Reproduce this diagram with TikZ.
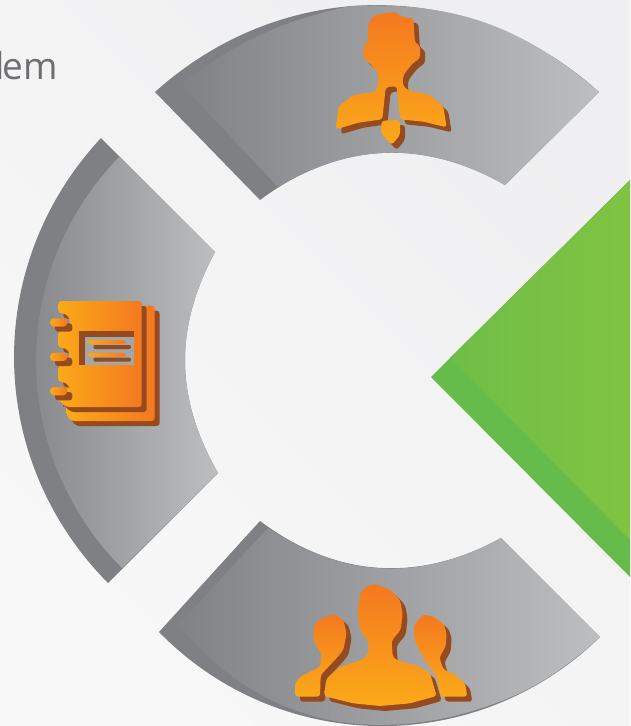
\documentclass[tikz,border=0pt]{standalone}
\usepackage{fontspec}
\setmainfont{Open Sans}
\definecolor{bgLight}{HTML}{F8F8F8}
\definecolor{bgDark}{HTML}{EFEFF1}
\definecolor{bandGray}{HTML}{7F8083}
\definecolor{sectorLeft}{HTML}{808285}
\definecolor{sectorRight}{HTML}{BCBEC0}
\definecolor{greenBand}{HTML}{65BC4A}
\definecolor{greenLeft}{HTML}{6FBE48}
\definecolor{greenRight}{HTML}{80C342}
\definecolor{iconDark}{HTML}{F47920}
\definecolor{iconLight}{HTML}{FBA919}
\definecolor{iconBrown}{HTML}{964A1F}
\definecolor{holeGray}{HTML}{A3A5A7}
\definecolor{wordGray}{HTML}{6D6E71}
\tikzset{
  sectorband/.style={fill=bandGray},
  sectorface/.style={left color=sectorLeft,right color=sectorRight},
  iconshadow/.style={fill=iconBrown,rounded corners=3pt,shift={(15,15)}},
  persongrad/.style={top color=iconDark,bottom color=iconLight,rounded corners=3pt},
  bookgrad/.style={left color=iconLight,right color=iconDark,rounded corners=3pt},
}
\newcommand{\manpath}{(145,70) -- (165,45) -- (225,35) -- (245,50) -- (280,55) -- (285,130) -- (300,135) -- (300,175) -- (278,190) -- (250,225) -- (248,255) -- (262,270) -- (330,285) -- (370,320) -- (380,382) -- (310,365) -- (240,358) -- (230,258) -- (197,262) -- (187,358) -- (115,368) -- (48,388) -- (55,320) -- (100,285) -- (165,275) -- (175,255) -- (175,220) -- (150,190) -- (130,175) -- (130,135) -- (143,130) -- cycle
  (185,362) -- (240,360) -- (240,405) -- (215,435) -- (183,400) -- cycle}
\newcommand{\groupleftpath}{(100,180) -- (105,160) -- (130,142) -- (165,132) -- (190,150) -- (200,190) -- (190,240) -- (172,262) -- (122,315) -- (120,380) -- (45,380) -- (45,340) -- (60,320) -- (95,303) -- (120,290) -- (125,255) -- (102,215) -- cycle}
\newcommand{\grouprightpath}{(403,180) -- (405,160) -- (430,133) -- (460,140) -- (490,160) -- (500,190) -- (497,230) -- (478,262) -- (490,298) -- (520,310) -- (555,340) -- (562,380) -- (482,380) -- (470,320) -- (445,285) -- (425,255) -- (405,215) -- cycle}
\newcommand{\groupmidpath}{(233,130) -- (240,70) -- (262,47) -- (285,42) -- (330,58) -- (360,90) -- (368,130) -- (362,180) -- (335,212) -- (338,260) -- (350,270) -- (420,290) -- (450,310) -- (470,378) -- (390,400) -- (300,408) -- (220,400) -- (132,378) -- (140,325) -- (180,290) -- (250,268) -- (265,250) -- (265,212) -- (240,180) -- cycle}
\newcommand{\bookbackpath}{(125,62) -- (374,62) -- (374,408) -- (125,408) -- (110,393) -- (110,355) -- cycle}
\newcommand{\bookfrontpath}{(85,48) -- (335,48) -- (335,366) -- (108,366) -- (85,343) -- (85,345)
  .. controls (128,345) and (128,291) .. (85,291) -- (85,242)
  .. controls (128,242) and (128,188) .. (85,188) -- (85,139)
  .. controls (128,139) and (128,85) .. (85,85) -- cycle}
\begin{document}
\begin{tikzpicture}[x=1pt,y=-1pt]
  \useasboundingbox (0,0) rectangle (630,726);
  \shade[bottom color=bgLight,middle color=bgDark,top color=bgDark,shading angle=-45] (0,0) rectangle (630,726);
  \node[anchor=base west,inner sep=0pt,font=\fontsize{37}{37}\selectfont,text=wordGray] (wordtail) at (-4.5,79) {l\kern-2.8pt em};

  \fill[sectorband] (155,92) to[bend left=42] (599,92) -- (505,185) to[bend right=33.3] (260,200) -- cycle;
  \shade[sectorface] (181,84) to[bend left=12] (350,6) to[bend left=21.5] (599,92) -- (505,185) to[bend right=30] (278,187) -- cycle;

  \fill[sectorband] (101,138) to[bend right=43.8] (108,583) -- (218,473) to[bend left=29] (215,252) -- cycle;
  \shade[sectorface] (119,157) to[bend right=44.4] (122,568) -- (218,473) to[bend left=29] (215,252) -- cycle;

  \fill[sectorband] (159,632) to[bend right=45] (600,637) -- (501,538) to[bend left=32.8] (260,521) -- cycle;
  \shade[sectorface] (178,625) to[bend right=31] (450,717) to[bend right=14] (600,637) -- (501,538) to[bend left=31.2] (268,528) -- cycle;

  \fill[greenBand] (630,180) -- (431,377) -- (630,577) -- cycle;
  \shade[left color=greenLeft,right color=greenRight] (630,180) -- (450,358) -- (630,540) -- cycle;

  \begin{scope}[shift={(320,0)},scale=1/3]
    \fill[iconshadow] \manpath;
    \shade[persongrad] \manpath;
  \end{scope}

  \begin{scope}[shift={(30,285)},scale=1/3]
    \fill[iconshadow] \bookbackpath;
    \shade[bookgrad] \bookbackpath;
    \fill[iconshadow] \bookfrontpath;
    \shade[bookgrad] \bookfrontpath;
    \foreach \ringy in {100,203,306} {
      \fill[iconshadow] (60,\ringy) rectangle (112,\ringy+25);
      \shade[bookgrad,rounded corners=4pt] (60,\ringy) rectangle (112,\ringy+25);
    }
    \fill[iconBrown] (148,138) rectangle (312,240);
    \fill[holeGray] (165,155) rectangle (312,240);
    \foreach \liney in {165,203} {
      \shade[bookgrad] (173,\liney) rectangle (288,\liney+12);
      \fill[iconBrown,rounded corners=2pt] (190,\liney+15) rectangle (303,\liney+27);
    }
  \end{scope}

  \begin{scope}[shift={(280,570)},scale=1/3]
    \foreach \grouppath in {\groupleftpath,\grouprightpath,\groupmidpath} {
      \fill[iconshadow] \grouppath;
    }
    \foreach \grouppath in {\groupleftpath,\grouprightpath,\groupmidpath} {
      \shade[persongrad] \grouppath;
    }
  \end{scope}
\end{tikzpicture}
\end{document}
